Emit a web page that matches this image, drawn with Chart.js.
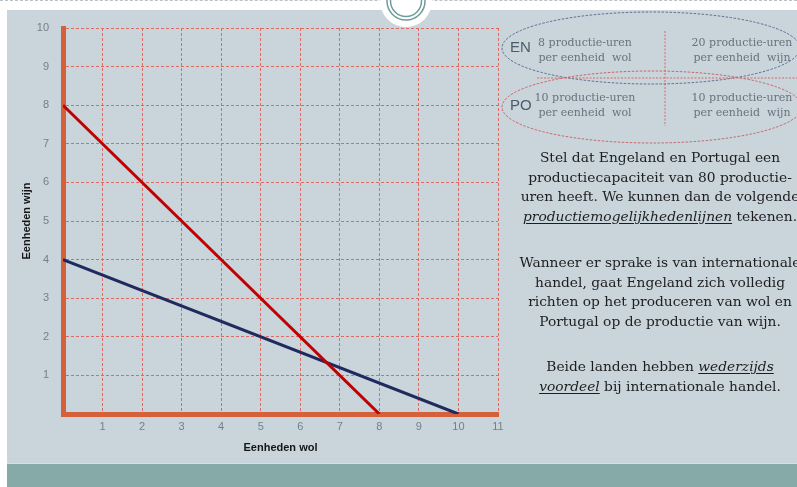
<!DOCTYPE html>
<html>
<head>
<meta charset="utf-8">
<script src="https://cdn.jsdelivr.net/npm/chart.js@4.4.1/dist/chart.umd.min.js"></script>
<style>
  html, body { margin: 0; padding: 0; }
  body { width: 797px; height: 487px; position: relative; overflow: hidden; background: #ffffff; }
  .slide { position: absolute; left: 7px; top: 10px; right: 0; bottom: 0; background: #c9d4db; }
  .topline { position: absolute; left: 0; right: 0; top: 0; border-top: 1px dashed #b9c2c7; }
  .footer { position: absolute; left: 7px; right: 0; top: 463px; bottom: 0; background: #86aaa8; border-top: 1px solid #d6e2e2; }
  #chart { position: absolute; left: 0; top: 0; }
  svg { position: absolute; left: 0; top: 0; }
  .cell { position: absolute; width: 150px; text-align: center; font-size: 11px; line-height: 15px; color: #67737f; font-family: "DejaVu Serif", serif; white-space: nowrap; }
  .tag { position: absolute; font-family: "Liberation Sans", Arial, sans-serif; font-size: 15px; color: #4b5c6a; }
  .para { position: absolute; left: 505px; width: 310px; text-align: center; font-family: "DejaVu Serif", serif; font-size: 13.8px; line-height: 19.5px; color: #1e1e1e; white-space: nowrap; }
  u { text-underline-offset: 2px; }
</style>
</head>
<body>
<div class="slide"></div>
<div class="topline"></div>
<div class="footer"></div>
<svg width="797" height="487">
  <circle cx="406" cy="1" r="26" fill="#ffffff"/>
  <circle cx="406" cy="1" r="19" fill="none" stroke="#6f9b9b" stroke-width="1.5"/>
  <circle cx="406" cy="1" r="15.5" fill="none" stroke="#6f9b9b" stroke-width="1.5"/>
  <line x1="665" y1="31" x2="665" y2="126" stroke="#d56b6b" stroke-width="1" stroke-dasharray="2,1.5"/>
  <line x1="537" y1="78" x2="797" y2="78" stroke="#d56b6b" stroke-width="1" stroke-dasharray="2,1.5"/>
  <ellipse cx="651" cy="48" rx="149" ry="36" fill="none" stroke="#5b6f96" stroke-width="1" stroke-dasharray="2.5,1.5"/>
  <ellipse cx="652" cy="107" rx="150" ry="36" fill="none" stroke="#d06464" stroke-width="1" stroke-dasharray="2.5,1.5"/>
</svg>
<canvas id="chart" width="520" height="465"></canvas>

<div class="tag" style="left:510px; top:38px;">EN</div>
<div class="tag" style="left:510px; top:96px;">PO</div>
<div class="cell" style="left:510px; top:35px;">8 productie-uren<br>per eenheid&nbsp; wol</div>
<div class="cell" style="left:667px; top:35px;">20 productie-uren<br>per eenheid&nbsp; wijn</div>
<div class="cell" style="left:510px; top:90px;">10 productie-uren<br>per eenheid&nbsp; wol</div>
<div class="cell" style="left:667px; top:90px;">10 productie-uren<br>per eenheid&nbsp; wijn</div>

<div class="para" style="top:148px;">Stel dat Engeland en Portugal een<br>productiecapaciteit van 80 productie-<br>uren heeft. We kunnen dan de volgende<br><u><i>productiemogelijkhedenlijnen</i></u> tekenen.</div>
<div class="para" style="top:253px;">Wanneer er sprake is van internationale<br>handel, gaat Engeland zich volledig<br>richten op het produceren van wol en<br>Portugal op de productie van wijn.</div>
<div class="para" style="top:357px;">Beide landen hebben <u><i>wederzijds</i></u><br><u><i>voordeel</i></u> bij internationale handel.</div>

<script>
// productiemogelijkheden bij 80 productie-uren
const engelandWol = [0, 10];
const engelandWijn = [4, 0];
const portugalWol = [0, 8];
const portugalWijn = [8, 0];

const xMax = 11;
const yMax = 10;

function toPoints(xs, ys) {
    return xs.map((x, i) => ({ x: x, y: ys[i] }));
}

const tickFont = { family: 'Liberation Sans, Arial, sans-serif', size: 11 };
const titleFont = { family: 'Liberation Sans, Arial, sans-serif', size: 11, weight: 'bold' };
const gridColor = '#de6a64';
const axisColor = '#d5603c';

new Chart(document.getElementById('chart').getContext('2d'), {
    type: 'scatter',
    data: {
        datasets: [
            {
                label: 'Portugal',
                data: toPoints(portugalWol, portugalWijn),
                showLine: true,
                borderColor: '#c00000',
                borderWidth: 3,
                pointRadius: 0,
                tension: 0
            },
            {
                label: 'Engeland',
                data: toPoints(engelandWol, engelandWijn),
                showLine: true,
                borderColor: '#1f2a5e',
                borderWidth: 3,
                pointRadius: 0,
                tension: 0
            }
        ]
    },
    options: {
        responsive: false,
        animation: false,
        layout: { padding: { top: 28, right: 22, left: 0, bottom: 0 } },
        plugins: {
            legend: { display: false },
            tooltip: { enabled: false }
        },
        scales: {
            x: {
                type: 'linear',
                min: 0,
                max: xMax,
                ticks: {
                    stepSize: 1,
                    color: '#72818d',
                    font: tickFont,
                    padding: 6,
                    callback: v => v === 0 ? '' : v
                },
                grid: { color: gridColor, lineWidth: 1, tickLength: 0 },
                border: { color: axisColor, width: 5, dash: [3, 2] },
                title: { display: true, text: 'Eenheden wol', color: '#151515', font: titleFont, padding: { bottom: 10 } },
                afterFit: s => { s.height = 51; }
            },
            y: {
                type: 'linear',
                min: 0,
                max: yMax,
                ticks: {
                    stepSize: 1,
                    color: '#72818d',
                    font: tickFont,
                    padding: 14,
                    callback: v => v === 0 ? '' : v
                },
                grid: { color: gridColor, lineWidth: 1, tickLength: 0 },
                border: { color: axisColor, width: 5, dash: [3, 2] },
                title: { display: true, text: 'Eenheden wijn', color: '#151515', font: titleFont, padding: { top: 20 } },
                afterFit: s => { s.width = 63; }
            }
        }
    }
});
</script>
</body>
</html>
